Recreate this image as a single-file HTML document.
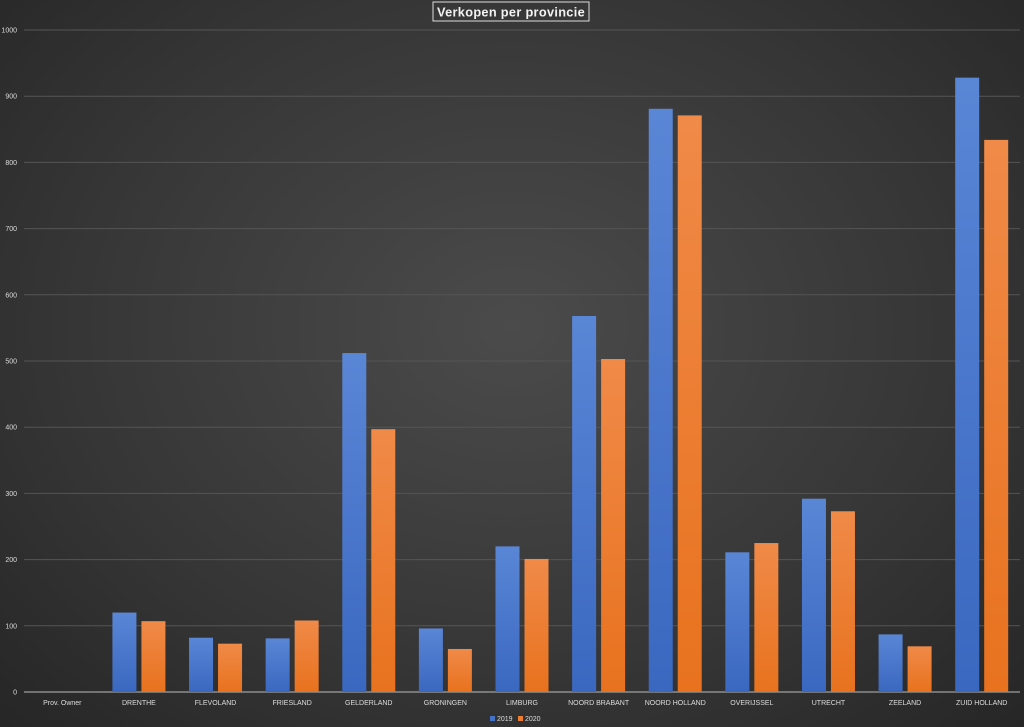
<!DOCTYPE html>
<html><head><meta charset="utf-8"><style>
body{margin:0;width:1024px;height:727px;overflow:hidden;background:radial-gradient(ellipse at 50% 45%,#4b4b4b 0%,#363636 60%,#262626 100%);font-family:"Liberation Sans",sans-serif}
svg{position:absolute;left:0;top:0}
</style></head><body>
<svg id="c" width="1024" height="727">
<defs>
<linearGradient id="gb" x1="0" y1="0" x2="0" y2="1"><stop offset="0" stop-color="#5a86d6"/><stop offset="1" stop-color="#3a68c0"/></linearGradient>
<linearGradient id="go" x1="0" y1="0" x2="0" y2="1"><stop offset="0" stop-color="#f08a48"/><stop offset="1" stop-color="#e8721e"/></linearGradient>
</defs>
<g id="grid"></g><g id="bars"></g><g id="labels"></g>
<rect x="433" y="2" width="156" height="19" fill="none" stroke="#ddd" stroke-width="1"/>
<text x="511" y="16.5" text-anchor="middle" fill="#f2f2f2" font-size="12.5" font-weight="bold" letter-spacing="0.3" textLength="148" lengthAdjust="spacingAndGlyphs">Verkopen per provincie</text>
<rect x="490" y="716" width="5" height="5" fill="#4472c4"/>
<text x="497" y="721" fill="#ddd" font-size="7">2019</text>
<rect x="518" y="716" width="5" height="5" fill="#ed7d31"/>
<text x="525" y="721" fill="#ddd" font-size="7">2020</text>
</svg>
<script>
const categories=["Prov. Owner","DRENTHE","FLEVOLAND","FRIESLAND","GELDERLAND","GRONINGEN","LIMBURG","NOORD BRABANT","NOORD HOLLAND","OVERIJSSEL","UTRECHT","ZEELAND","ZUID HOLLAND"];
const values2019=[0,120,82,81,512,96,220,568,881,211,292,87,928];
const values2020=[0,107,73,108,397,65,201,503,871,225,273,69,834];
const ticks=[0,100,200,300,400,500,600,700,800,900,1000];
const NS="http://www.w3.org/2000/svg";
const x0=24,x1=1020,yBase=692,yTop=30,maxV=1000;
const bw=(x1-x0)/categories.length;
function y(v){return yBase-(v/maxV)*(yBase-yTop);}
function mk(t,a,p){const e=document.createElementNS(NS,t);for(const k in a)e.setAttribute(k,a[k]);p.appendChild(e);return e;}
const grid=document.getElementById('grid'),bars=document.getElementById('bars'),labels=document.getElementById('labels');
ticks.forEach(t=>{
  const l=mk('line',{x1:x0,x2:x1,y1:y(t),y2:y(t),stroke:t===0?'#bbb':'#555','stroke-width':1},grid);
  
  
  const tx=mk('text',{x:17,y:y(t)+2.5,'text-anchor':'end',fill:'#ddd','font-size':7},labels);
  tx.textContent=t;
  
  
});
categories.forEach((c,i)=>{
  const cx=x0+bw*(i+0.5);
  const w=24,g=5;
  const b1=mk('rect',{x:cx-g/2-w,y:y(values2019[i]),width:w,height:yBase-y(values2019[i]),fill:'url(#gb)'},bars);
  
  
  const b2=mk('rect',{x:cx+g/2,y:y(values2020[i]),width:w,height:yBase-y(values2020[i]),fill:'url(#go)'},bars);
  
  
  const t=mk('text',{x:cx,y:705,'text-anchor':'middle',fill:'#ddd','font-size':7},labels);
  t.textContent=c;
  
  
});
</script>
</body></html>
